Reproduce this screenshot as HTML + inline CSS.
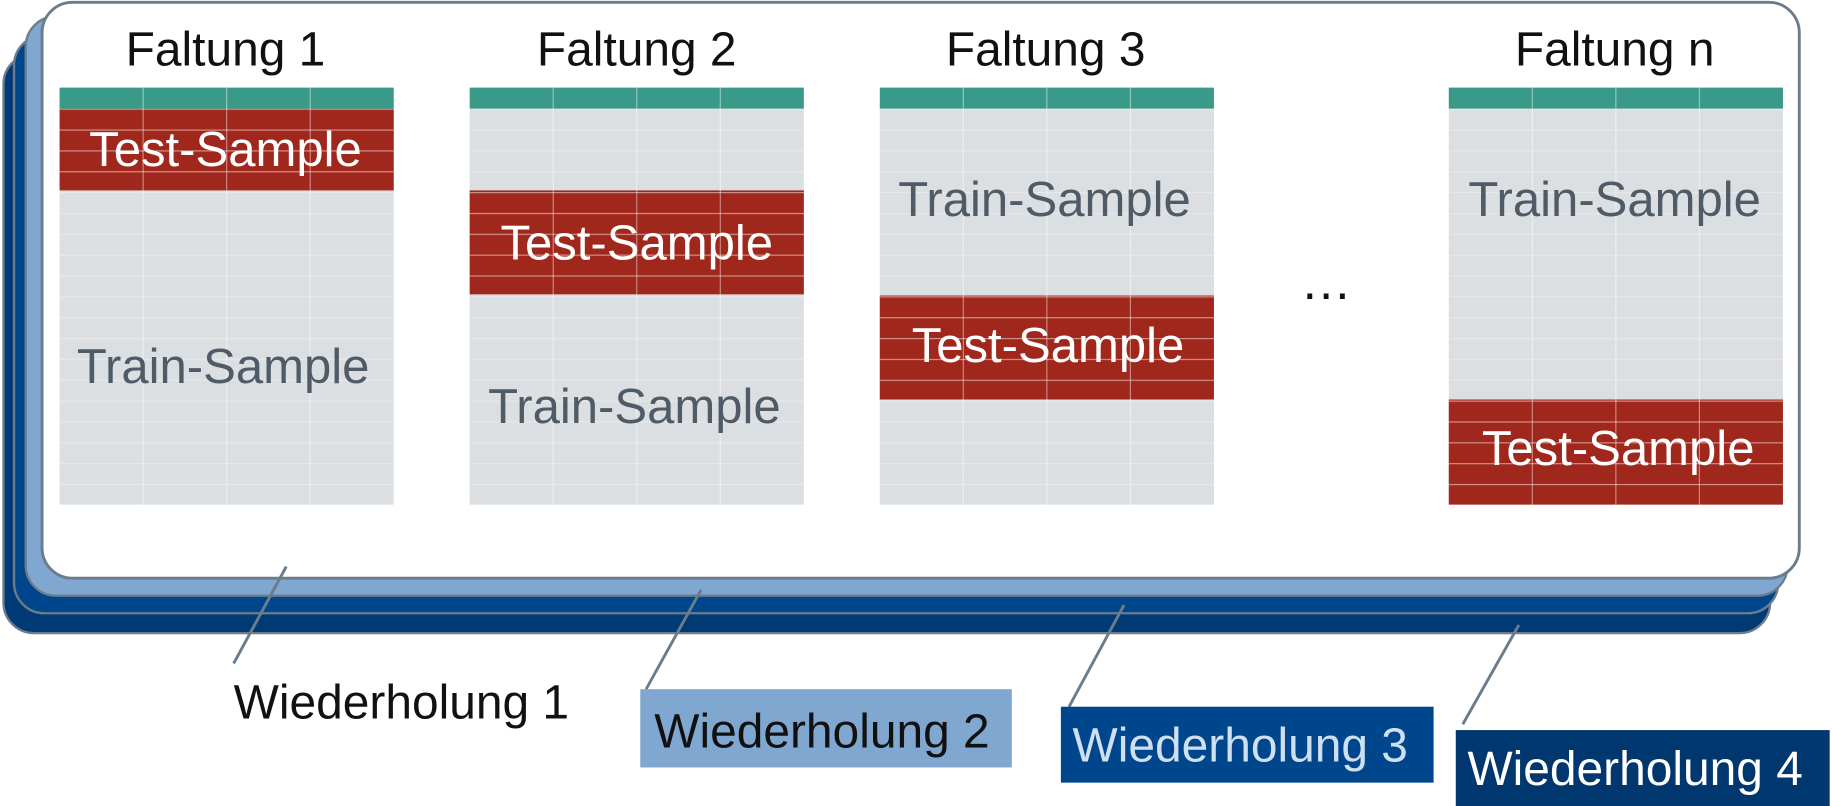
<!DOCTYPE html>
<html><head><meta charset="utf-8"><style>
html,body{margin:0;padding:0;background:#fff;}
svg{display:block;}
text{font-family:"Liberation Sans",Arial,sans-serif;}
</style></head><body>
<svg width="1832" height="806" viewBox="0 0 1568 690" preserveAspectRatio="none" xmlns="http://www.w3.org/2000/svg">
<defs>
<pattern id="rows" patternUnits="userSpaceOnUse" x="0" y="93" width="20" height="17.85">
<rect x="0" y="0" width="20" height="1" fill="#ffffff" fill-opacity="0.5"/>
</pattern>
<pattern id="rowsg" patternUnits="userSpaceOnUse" x="0" y="93" width="20" height="17.85">
<rect x="0" y="0" width="20" height="1" fill="#e8eaec" fill-opacity="0.8"/>
</pattern>
</defs>
<rect x="3" y="46" width="1512" height="496" rx="26" fill="#003a75" stroke="#6b7d8c" stroke-width="2"/>
<rect x="12" y="30" width="1510" height="495" rx="26" fill="#00468c" stroke="#6b7d8c" stroke-width="2"/>
<rect x="22" y="14" width="1508" height="496" rx="26" fill="#7fa7cf" stroke="#6b7d8c" stroke-width="2"/>
<rect x="36" y="2" width="1504" height="493" rx="26" fill="#ffffff" stroke="#6b7d8c" stroke-width="2.5"/>

<g font-size="41" fill="#111" text-anchor="middle">
<text x="193" y="56">Faltung 1</text>
<text x="545" y="56">Faltung 2</text>
<text x="895" y="56">Faltung 3</text>
<text x="1382" y="56">Faltung n</text>
</g>

<g>
<rect x="51" y="93" width="286" height="339" fill="#dcdfe2"/>
<rect x="402" y="93" width="286" height="339" fill="#dcdfe2"/>
<rect x="753" y="93" width="286" height="339" fill="#dcdfe2"/>
<rect x="1240" y="93" width="286" height="339" fill="#dcdfe2"/>
<rect x="51" y="93" width="286" height="339" fill="url(#rowsg)"/>
<rect x="402" y="93" width="286" height="339" fill="url(#rowsg)"/>
<rect x="753" y="93" width="286" height="339" fill="url(#rowsg)"/>
<rect x="1240" y="93" width="286" height="339" fill="url(#rowsg)"/>
<rect x="51" y="93" width="286" height="70" fill="#a0271b"/>
<rect x="402" y="163" width="286" height="89" fill="#a0271b"/>
<rect x="753" y="253" width="286" height="89" fill="#a0271b"/>
<rect x="1240" y="342" width="286" height="90" fill="#a0271b"/>
<rect x="51" y="93" width="286" height="70" fill="url(#rows)"/>
<rect x="402" y="163" width="286" height="89" fill="url(#rows)"/>
<rect x="753" y="253" width="286" height="89" fill="url(#rows)"/>
<rect x="1240" y="342" width="286" height="90" fill="url(#rows)"/>
<g fill="#399a8a">
<rect x="51" y="75" width="286" height="18"/>
<rect x="402" y="75" width="286" height="18"/>
<rect x="753" y="75" width="286" height="18"/>
<rect x="1240" y="75" width="286" height="18"/>
</g>
<g stroke="#ffffff" stroke-opacity="0.45" stroke-width="1">
<line x1="122.5" y1="75" x2="122.5" y2="432"/><line x1="194" y1="75" x2="194" y2="432"/><line x1="265.5" y1="75" x2="265.5" y2="432"/>
<line x1="473.5" y1="75" x2="473.5" y2="432"/><line x1="545" y1="75" x2="545" y2="432"/><line x1="616.5" y1="75" x2="616.5" y2="432"/>
<line x1="824.5" y1="75" x2="824.5" y2="432"/><line x1="896" y1="75" x2="896" y2="432"/><line x1="967.5" y1="75" x2="967.5" y2="432"/>
<line x1="1311.5" y1="75" x2="1311.5" y2="432"/><line x1="1383" y1="75" x2="1383" y2="432"/><line x1="1454.5" y1="75" x2="1454.5" y2="432"/>
</g>
</g>

<g font-size="42" text-anchor="middle">
<text x="193" y="142" fill="#fff">Test-Sample</text>
<text x="545" y="222" fill="#fff">Test-Sample</text>
<text x="897" y="310" fill="#fff">Test-Sample</text>
<text x="1385" y="398" fill="#fff">Test-Sample</text>
<text x="191" y="328" fill="#4f5b66">Train-Sample</text>
<text x="543" y="362" fill="#4f5b66">Train-Sample</text>
<text x="894" y="185" fill="#4f5b66">Train-Sample</text>
<text x="1382" y="185" fill="#4f5b66">Train-Sample</text>
</g>
<text x="1135" y="256" font-size="44" text-anchor="middle" fill="#111">…</text>

<g stroke="#6b7d8c" stroke-width="2.5">
<line x1="245" y1="485" x2="200" y2="568"/>
<line x1="600" y1="505" x2="553" y2="590"/>
<line x1="962" y1="518" x2="915" y2="605"/>
<line x1="1300" y1="535" x2="1252" y2="620"/>
</g>

<text x="200" y="615" font-size="41" fill="#111">Wiederholung 1</text>
<rect x="548" y="590" width="318" height="67" fill="#7fa7cf"/>
<text x="560" y="640" font-size="41" fill="#111">Wiederholung 2</text>
<rect x="908" y="605" width="319" height="65" fill="#00468c"/>
<text x="918" y="652" font-size="41" fill="#cfe0f0">Wiederholung 3</text>
<rect x="1246" y="625" width="320" height="65" fill="#00376f"/>
<text x="1256" y="672" font-size="41" fill="#ffffff">Wiederholung 4</text>
</svg>
</body></html>
